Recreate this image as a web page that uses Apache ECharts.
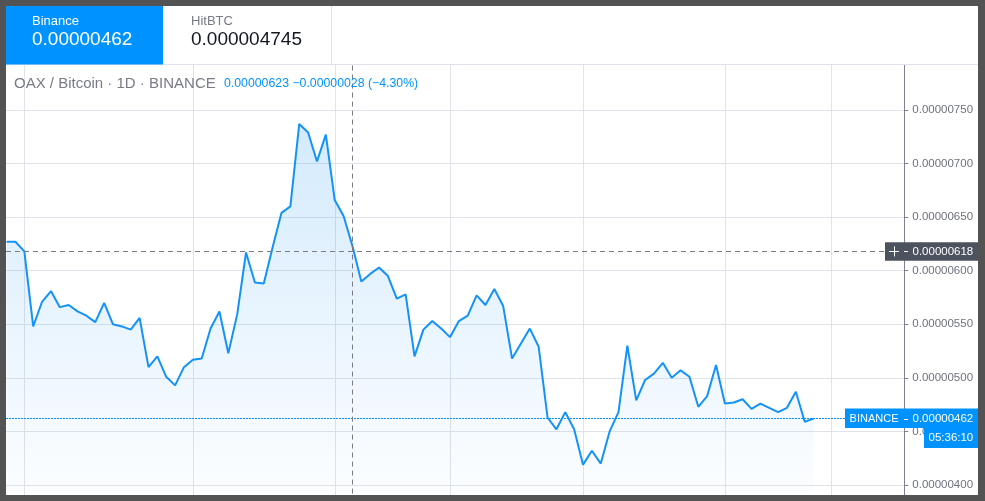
<!DOCTYPE html>
<html>
<head>
<meta charset="utf-8">
<script src="https://cdn.jsdelivr.net/npm/echarts@6/dist/echarts.min.js"></script>
<style>
html,body{margin:0;padding:0;background:#535353;}
#c{width:985px;height:501px;}
</style>
</head>
<body>
<div id="c"></div>
<script>
// Daily closes, in satoshi (1e-8 BTC), OAX/BTC on Binance
const closeSat = [627,627,618,548,571,581,566,568,562,558,552,570,550,548,545,556,510,520,501,493,
  510,517,518,546,562,523,559,617,589,588,622,654,660,737,729,702,727,666,651,623,
  590,597,603,595,574,578,520,545,553,546,538,553,558,577,568,583,567,518,532,546,
  529,463,452,468,452,419,432,420,450,468,530,479,498,504,514,500,507,501,473,483,
  512,476,477,480,471,476,472,468,472,487,459,462];
// bar indices where the time grid draws its vertical lines
const timeGridIdx = [2,21,37,50,65,81,93];
// price axis ticks (satoshi)
const priceMin = 350, priceMax = 800, priceStep = 50;
const exchangeNames = ['Binance','HitBTC'];
const exchangePrices = ['0.00000462','0.000004745'];
const symbolTitle = 'OAX / Bitcoin · 1D · BINANCE';
const legendValues = '0.00000623 −0.00000028 (−4.30%)';
const crosshairIdx = 39;
const crosshairPrice = 618;
const priceLabelExchange = 'BINANCE';
const countdown = '05:36:10';

const FONT = '"Liberation Sans", Arial, sans-serif';
const BLUE = '#0093ff';
const LINE = '#1492f5';
const GRID = '#e1e3ea';
const FRAME = '#535353';
const fmt = v => (v / 1e8).toFixed(8);

const chart = echarts.init(document.getElementById('c'), null, {renderer:'canvas', width:985, height:501});
const lastVal = closeSat[closeSat.length - 1];

chart.setOption({
  animation: false,
  backgroundColor: '#ffffff',
  grid: {left: 6, top: 56.43, width: 898.3, height: 482.14, containLabel: false, outerBoundsMode: 'none'},
  xAxis: {type: 'value', min: -0.068, max: 101.23, show: true,
    axisLine: {show: false}, axisTick: {show: false}, axisLabel: {show: false}, splitLine: {show: false}},
  yAxis: {type: 'value', position: 'right', min: priceMin, max: priceMax, interval: priceStep,
    axisLine: {show: true, onZero: false, lineStyle: {color: '#7f828e', width: 1}},
    axisTick: {show: true, length: 4, lineStyle: {color: '#7f828e'}},
    axisLabel: {show: true, margin: 8, color: '#6f727d', fontFamily: FONT, fontSize: 11.5,
      formatter: v => (v >= priceMax || v <= priceMin) ? '' : fmt(v)},
    splitLine: {show: true, lineStyle: {color: GRID, width: 1}}},
  series: [
    {type: 'custom', z: 1, silent: true,
      data: timeGridIdx.map(i => [i, priceMin]),
      encode: {x: 0, y: 1},
      renderItem: (params, api) => {
        const x = Math.round(api.coord([api.value(0), api.value(1)])[0]) + 0.5;
        const cs = params.coordSys;
        return {type: 'line', shape: {x1: x, y1: cs.y, x2: x, y2: cs.y + cs.height},
          style: {stroke: GRID, lineWidth: 1}};
      }},
    {type: 'line', z: 3, data: closeSat.map((v, i) => [i, v]),
      symbol: 'none', showSymbol: false,
      lineStyle: {color: LINE, width: 2},
      areaStyle: {color: {type: 'linear', x: 0, y: 124, x2: 0, y2: 495, global: true,
        colorStops: [{offset: 0, color: 'rgba(33,150,243,0.28)'}, {offset: 1, color: 'rgba(33,150,243,0.02)'}]}},
      markLine: {silent: true, symbol: ['none','none'], label: {show: false}, animation: false,
        data: [
          {yAxis: lastVal, lineStyle: {color: BLUE, width: 1, type: [2,1]}},
          {yAxis: crosshairPrice, lineStyle: {color: '#787b86', width: 1, type: [5,4]}},
          {xAxis: crosshairIdx, lineStyle: {color: '#787b86', width: 1, type: [5,4]}}
        ]}}
  ]
});

const yLast = chart.convertToPixel({yAxisIndex: 0}, lastVal);
const yCross = chart.convertToPixel({yAxisIndex: 0}, crosshairPrice);

const g = [];
// frame
g.push({type:'rect', z:100, shape:{x:0,y:0,width:985,height:6}, style:{fill:FRAME}});
g.push({type:'rect', z:100, shape:{x:0,y:495,width:985,height:6}, style:{fill:FRAME}});
g.push({type:'rect', z:100, shape:{x:0,y:0,width:6,height:501}, style:{fill:FRAME}});
g.push({type:'rect', z:100, shape:{x:978,y:0,width:7,height:501}, style:{fill:FRAME}});
// top exchange panel
g.push({type:'rect', z:90, shape:{x:6,y:6,width:972,height:59}, style:{fill:'#ffffff'}});
g.push({type:'line', z:91, shape:{x1:6,y1:64.5,x2:978,y2:64.5}, style:{stroke:'#e0e3eb', lineWidth:1}});
g.push({type:'rect', z:92, shape:{x:6,y:6,width:157,height:58.5}, style:{fill:BLUE}});
g.push({type:'line', z:91, shape:{x1:331.5,y1:6,x2:331.5,y2:64}, style:{stroke:'#e0e3eb', lineWidth:1}});
const tabX = [32, 191];
exchangeNames.forEach((n, i) => {
  g.push({type:'text', z:95, style:{text:n, x:tabX[i], y:21, verticalAlign:'middle',
    font:'13px ' + FONT, fill: i === 0 ? '#ffffff' : '#787b86'}});
  g.push({type:'text', z:95, style:{text:exchangePrices[i], x:tabX[i], y:40, verticalAlign:'middle',
    font:'19px ' + FONT, fill: i === 0 ? '#ffffff' : '#131722'}});
});
// title and legend
g.push({type:'text', z:50, style:{text:symbolTitle, x:14, y:83.5, verticalAlign:'middle', font:'15px ' + FONT, fill:'#787b86'}});
g.push({type:'text', z:50, style:{text:legendValues, x:224, y:84, verticalAlign:'middle', font:'12.3px ' + FONT, fill:BLUE}});
// crosshair price label
g.push({type:'rect', z:60, shape:{x:885,y:yCross-9.2,width:93,height:18.4}, style:{fill:'#4c525e'}});
g.push({type:'line', z:61, shape:{x1:889,y1:Math.round(yCross)+0.5,x2:899,y2:Math.round(yCross)+0.5}, style:{stroke:'#ffffff', lineWidth:1}});
g.push({type:'line', z:61, shape:{x1:894.5,y1:yCross-5,x2:894.5,y2:yCross+5}, style:{stroke:'#ffffff', lineWidth:1}});
g.push({type:'line', z:61, shape:{x1:904,y1:Math.round(yCross)+0.5,x2:908,y2:Math.round(yCross)+0.5}, style:{stroke:'#ffffff', lineWidth:1}});
g.push({type:'text', z:61, style:{text:fmt(crosshairPrice), x:912.5, y:yCross, verticalAlign:'middle', font:'11.5px ' + FONT, fill:'#ffffff'}});
// last price label
g.push({type:'rect', z:60, shape:{x:845,y:yLast-10,width:133,height:19.5}, style:{fill:BLUE}});
g.push({type:'text', z:61, style:{text:priceLabelExchange, x:898.5, y:yLast, align:'right', verticalAlign:'middle', font:'11px ' + FONT, fill:'#ffffff'}});
g.push({type:'line', z:61, shape:{x1:904,y1:Math.round(yLast)+0.5,x2:908,y2:Math.round(yLast)+0.5}, style:{stroke:'#ffffff', lineWidth:1}});
g.push({type:'text', z:61, style:{text:fmt(lastVal), x:912.5, y:yLast, verticalAlign:'middle', font:'11.5px ' + FONT, fill:'#ffffff'}});
g.push({type:'rect', z:60, shape:{x:924,y:yLast+9.5,width:54,height:20}, style:{fill:BLUE}});
g.push({type:'text', z:61, style:{text:countdown, x:928.5, y:yLast+19.5, verticalAlign:'middle', font:'11.5px ' + FONT, fill:'#ffffff'}});

chart.setOption({graphic: {elements: g}});
</script>
</body>
</html>
